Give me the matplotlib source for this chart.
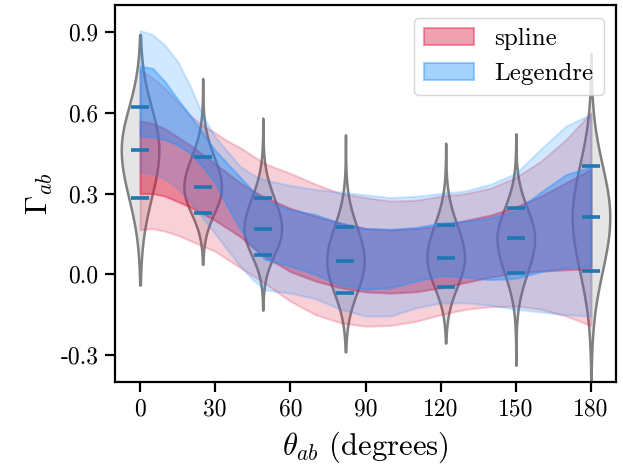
import numpy as np
import matplotlib
matplotlib.use("Agg")
import matplotlib.pyplot as plt
from matplotlib.patches import Patch

plt.rcParams['font.family'] = ['cmr10', 'DejaVu Serif']
plt.rcParams['mathtext.fontset'] = 'cm'
plt.rcParams['axes.unicode_minus'] = False

# ---- violin data ----
violin_pos = [0, 25, 49, 82, 122, 150, 180]
q16 = [0.285, 0.226, 0.072, -0.068, -0.047, 0.004, 0.012]
q50 = [0.463, 0.323, 0.168, 0.050, 0.062, 0.133, 0.212]
q84 = [0.620, 0.436, 0.283, 0.176, 0.183, 0.245, 0.404]
vmin = [-0.04, 0.037, -0.133, -0.288, -0.255, -0.338, -0.45]
vmax = [0.89, 0.727, 0.58, 0.518, 0.487, 0.522, 0.82]

# ---- bands ----
theta = [0, 5, 10, 15, 20, 25, 30, 35, 40, 45, 50, 60, 70, 80, 90, 100, 110,
         120, 130, 140, 150, 160, 170, 180]
leg_outer_hi = [.905, .89, .85, .79, .70, .59, .51, .455, .40, .37, .35, .33, .315,
                .305, .295, .285, .29, .30, .31, .335, .375, .465, .55, .595]
leg_inner_hi = [.773, .765, .715, .65, .59, .525, .46, .41, .36, .31, .275, .24, .222,
                .19, .17, .167, .174, .19, .197, .21, .236, .305, .37, .398]
leg_inner_lo = [.515, .51, .50, .48, .45, .40, .34, .25, .17, .10, .055, .03, .0,
                -.04, -.055, -.05, -.025, -.005, -.01, -.02, -.015, .01, .025, .03]
leg_outer_lo = [.38, .375, .355, .32, .27, .21, .15, .09, .03, -.02, -.058, -.07, -.09,
                -.13, -.155, -.155, -.125, -.106, -.106, -.115, -.13, -.14, -.15, -.155]
spl_outer_hi = [.76, .73, .69, .64, .59, .553, .525, .495, .47, .44, .41, .375, .335,
                .30, .285, .272, .275, .29, .30, .32, .36, .42, .50, .60]
spl_inner_hi = [.57, .56, .54, .51, .48, .445, .41, .375, .34, .31, .285, .245, .215,
                .19, .17, .165, .17, .18, .20, .22, .25, .29, .34, .39]
spl_inner_lo = [.30, .30, .29, .27, .25, .225, .20, .17, .14, .10, .065, .01, -.025,
                -.05, -.065, -.07, -.065, -.05, -.03, -.01, .005, .012, .017, .02]
spl_outer_lo = [.165, .17, .16, .145, .125, .105, .085, .055, .025, -.005, -.035, -.10,
                -.15, -.18, -.193, -.19, -.175, -.15, -.13, -.12, -.118, -.13, -.155, -.19]

xticks = [0, 30, 60, 90, 120, 150, 180]
yticks = [-0.3, 0.0, 0.3, 0.6, 0.9]
ytick_labels = ['-0.3', '0.0', '0.3', '0.6', '0.9']

spl_color = 'crimson'
leg_color = 'dodgerblue'

fig = plt.figure(figsize=(6.23, 4.65), dpi=100)
ax = fig.add_axes([0.1846, 0.1785, 0.8042, 0.8107])

# violins built from read quantiles (asymmetric gaussian profile)
stats = []
for lo, med, hi, mn, mx in zip(q16, q50, q84, vmin, vmax):
    y = np.linspace(mn, mx, 300)
    s = np.where(y > med, hi - med, med - lo)
    v = np.exp(-0.5 * ((y - med) / s) ** 2)
    stats.append(dict(coords=y, vals=v, mean=med, median=med, min=mn, max=mx))
parts = ax.violin(stats, positions=violin_pos, widths=15, showmeans=False,
                  showextrema=False, showmedians=False)
for b in parts['bodies']:
    b.set_alpha(None)
    b.set_facecolor((0.5, 0.5, 0.5, 0.2))
    b.set_edgecolor((0.5, 0.5, 0.5, 1.0))
    b.set_linewidth(1.8)
    b.set_zorder(1)

th = np.array(theta)
ax.fill_between(th, spl_outer_lo, spl_outer_hi, color=spl_color, alpha=0.2, lw=1.5, zorder=2)
ax.fill_between(th, spl_inner_lo, spl_inner_hi, color=spl_color, alpha=0.4, lw=1.5, zorder=2)
ax.fill_between(th, leg_outer_lo, leg_outer_hi, color=leg_color, alpha=0.2, lw=1.5, zorder=2)
ax.fill_between(th, leg_inner_lo, leg_inner_hi, color=leg_color, alpha=0.4, lw=1.5, zorder=2)

for p, a, b, c in zip(violin_pos, q16, q50, q84):
    ax.plot([p, p, p], [a, b, c], ls='none', marker='_', ms=13, mew=2.6,
            color='#1f77b4', zorder=3)

ax.set_xlim(-10, 190)
ax.set_ylim(-0.4, 1.0)
ax.set_xticks(xticks)
ax.set_xticklabels([str(t) for t in xticks])
ax.set_yticks(yticks)
ax.set_yticklabels(ytick_labels)
ax.tick_params(labelsize=17, width=1.6, length=7, pad=5)
for sp in ax.spines.values():
    sp.set_linewidth(1.6)
ax.set_xlabel(r'$\theta_{ab}$ (degrees)', fontsize=22, labelpad=6)
ax.set_ylabel(r'$\Gamma_{ab}$', fontsize=22, labelpad=4)

handles = [Patch(facecolor=spl_color, edgecolor=spl_color, alpha=0.4, lw=1.5, label='spline'),
           Patch(facecolor=leg_color, edgecolor=leg_color, alpha=0.4, lw=1.5, label='Legendre')]
ax.legend(handles=handles, loc='upper right', fontsize=18)

fig.savefig('out.png', dpi=100)
